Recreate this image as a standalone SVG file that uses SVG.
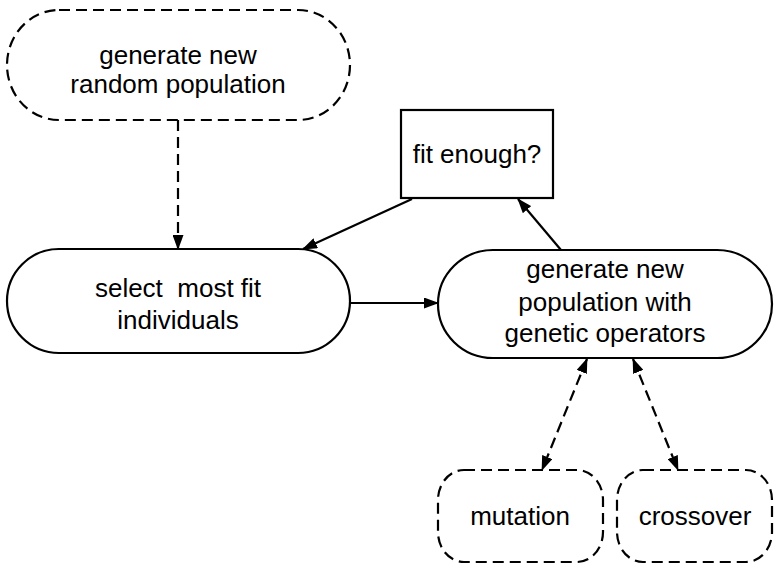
<svg xmlns="http://www.w3.org/2000/svg" width="774" height="565" viewBox="0 0 774 565">
<defs>
<style>
.node{fill:#fff;stroke:#000;stroke-width:2.2}
.dash{stroke-dasharray:11 6}
.lbl{font-family:"Liberation Sans",Arial,sans-serif;font-size:26px;fill:#000;text-anchor:middle}
.conn{fill:none;stroke:#000;stroke-width:2.2}
</style>
<marker id="ah" viewBox="0 0 15 11" refX="14" refY="5.5" markerWidth="15" markerHeight="11" markerUnits="userSpaceOnUse" orient="auto-start-reverse">
<path d="M0,0 L15,5.5 L0,11 z" fill="#000" stroke="none"/>
</marker>
</defs>
<rect width="774" height="565" fill="#fff"/>
<g id="connectors">
<path class="conn dash" d="M178 120 L178 249" marker-end="url(#ah)"/>
<path class="conn" d="M412 199 L303 249" marker-end="url(#ah)"/>
<path class="conn" d="M561 250 L518 199" marker-end="url(#ah)"/>
<path class="conn" d="M350 303 L438 303" marker-end="url(#ah)"/>
<path class="conn dash" d="M587 359 L542 470" marker-start="url(#ah)" marker-end="url(#ah)"/>
<path class="conn dash" d="M633 359 L678 470" marker-start="url(#ah)" marker-end="url(#ah)"/>
</g>
<g id="random">
<rect class="node dash" x="7" y="10" width="343" height="110" rx="52" ry="55"/>
<text class="lbl" x="178" y="64">generate new</text>
<text class="lbl" x="178" y="93">random population</text>
</g>
<g id="fit">
<rect class="node" x="401" y="110" width="152" height="88"/>
<text class="lbl" x="477" y="163">fit enough?</text>
</g>
<g id="select">
<rect class="node" x="7" y="249" width="343" height="104" rx="52" ry="52"/>
<text class="lbl" x="178" y="297" xml:space="preserve">select  most fit</text>
<text class="lbl" x="178" y="329">individuals</text>
</g>
<g id="generate">
<rect class="node" x="438" y="250" width="334" height="108" rx="55" ry="54"/>
<text class="lbl" x="605" y="278">generate new</text>
<text class="lbl" x="605" y="311">population with</text>
<text class="lbl" x="605" y="342">genetic operators</text>
</g>
<g id="mutation">
<rect class="node dash" x="438" y="470" width="165" height="92" rx="26" ry="30"/>
<text class="lbl" x="520" y="525">mutation</text>
</g>
<g id="crossover">
<rect class="node dash" x="617" y="470" width="155" height="92" rx="26" ry="30"/>
<text class="lbl" x="695" y="525">crossover</text>
</g>
</svg>
